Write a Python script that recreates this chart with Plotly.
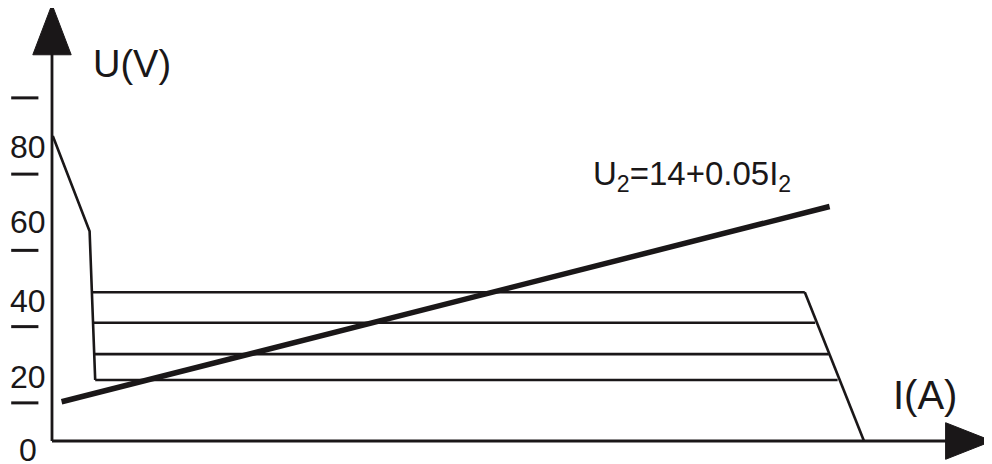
import plotly.graph_objects as go

# external characteristic (I in A, U in V)
curve_i = [1, 47, 54]
curve_u = [80, 55, 16]
# horizontal steps: left end, right end, level
step_left = [50.5, 51.5, 53, 54]
step_right = [941, 954, 971, 982]
step_u = [39, 31, 22.8, 16]
# sloping right edge
edge_i = [941, 1015]
edge_u = [39, 0]

# load line U2 = 14 + 0.05 I2 (as drawn)
load_i = [12, 972]
load_u = [10.3, 61.5]

# y-axis tick dashes and labels
dash_u = [10, 30, 50, 70, 90]
label_u = [-2.4, 16.8, 36.7, 57.4, 77.1]
label_txt = ["0", "20", "40", "60", "80"]

I_MAX = 1175
U_MAX = 114.5

fig = go.Figure()

black = "#1a1718"

# axes
fig.add_trace(go.Scatter(x=[0, 0], y=[0, 104], mode="lines",
                         line=dict(color=black, width=2.8)))
fig.add_trace(go.Scatter(x=[0, 1120], y=[0, 0], mode="lines",
                         line=dict(color=black, width=2.8)))
# arrow heads
fig.add_trace(go.Scatter(x=[-24, 0, 24, -24], y=[101.3, U_MAX, 101.3, 101.3],
                         mode="lines", fill="toself", fillcolor=black,
                         line=dict(color=black, width=1)))
fig.add_trace(go.Scatter(x=[1117, I_MAX, 1117, 1117], y=[4.8, 0, -4.8, 4.8],
                         mode="lines", fill="toself", fillcolor=black,
                         line=dict(color=black, width=1)))

# tick dashes
dx, dy = [], []
for u in dash_u:
    dx += [-51, -17, None]
    dy += [u, u, None]
fig.add_trace(go.Scatter(x=dx, y=dy, mode="lines",
                         line=dict(color=black, width=3)))

# characteristic
fig.add_trace(go.Scatter(x=curve_i, y=curve_u, mode="lines",
                         line=dict(color=black, width=2.6)))
sx, sy = [], []
for a, b, u in zip(step_left, step_right, step_u):
    sx += [a, b, None]
    sy += [u, u, None]
fig.add_trace(go.Scatter(x=sx, y=sy, mode="lines",
                         line=dict(color=black, width=2.6)))
fig.add_trace(go.Scatter(x=edge_i, y=edge_u, mode="lines",
                         line=dict(color=black, width=2.6)))

# load line
fig.add_trace(go.Scatter(x=load_i, y=load_u, mode="lines",
                         line=dict(color=black, width=5.5)))

font = "Liberation Sans, Arial, sans-serif"
for u, t in zip(label_u, label_txt):
    fig.add_annotation(x=-30, y=u, text=t, showarrow=False,
                       font=dict(family=font, size=32, color=black),
                       xanchor="center", yanchor="middle")

fig.add_annotation(x=49, y=99, text="U(V)", showarrow=False,
                   font=dict(family=font, size=38, color=black),
                   xanchor="left", yanchor="middle")
fig.add_annotation(x=1049, y=12, text="I(A)", showarrow=False,
                   font=dict(family=font, size=40, color=black),
                   xanchor="left", yanchor="middle")
fig.add_annotation(x=674, y=69.5, text="U<sub>2</sub>=14+0.05I<sub>2</sub>",
                   showarrow=False,
                   font=dict(family=font, size=33, color=black),
                   xanchor="left", yanchor="middle")

# page body has an 8px margin, so the figure is shifted by 8px
fig.update_layout(
    width=984,
    height=456,
    showlegend=False,
    paper_bgcolor="white",
    plot_bgcolor="white",
    margin=dict(l=0, r=0, t=0, b=0),
    xaxis=dict(visible=False, range=[-55, 1175], fixedrange=True),
    yaxis=dict(visible=False, range=[-6.03, 113.57], fixedrange=True),
)

fig.write_html("out.html")
